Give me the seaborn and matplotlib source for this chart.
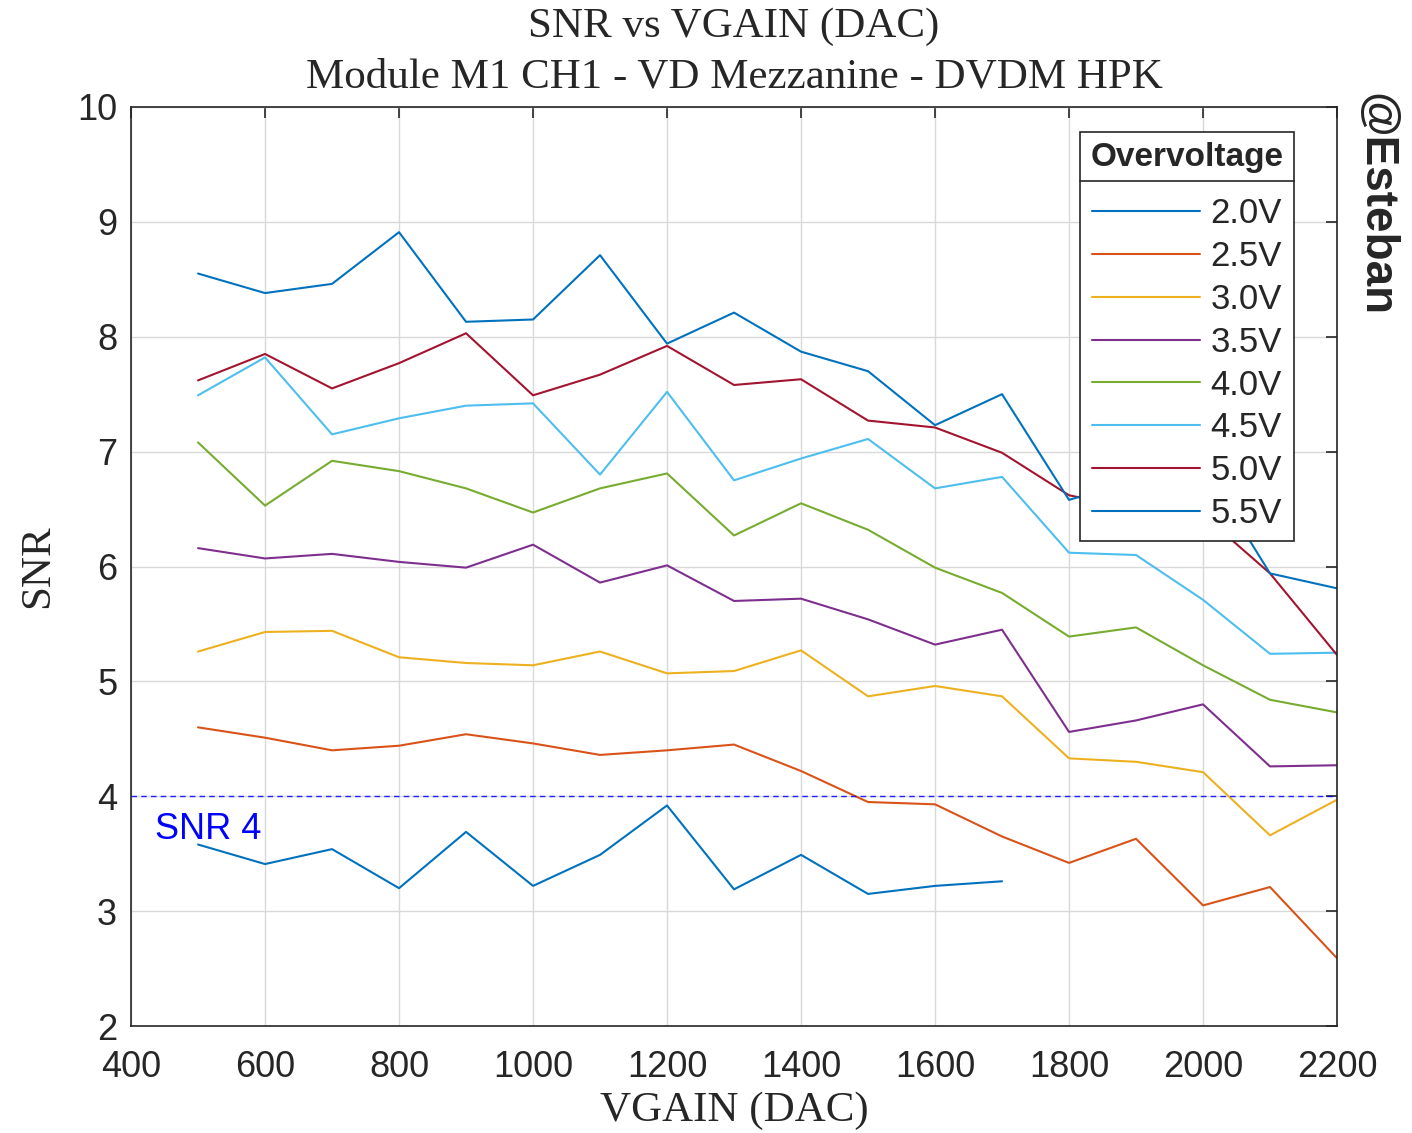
import numpy as np
import pandas as pd
import matplotlib
matplotlib.use("Agg")
import matplotlib.pyplot as plt
import seaborn as sns
from matplotlib.lines import Line2D

vgain = [500, 600, 700, 800, 900, 1000, 1100, 1200, 1300, 1400, 1500, 1600, 1700, 1800, 1900, 2000, 2100, 2200]

snr_2_0 = [3.58, 3.41, 3.54, 3.20, 3.69, 3.22, 3.49, 3.92, 3.19, 3.49, 3.15, 3.22, 3.26]
snr_2_5 = [4.60, 4.51, 4.40, 4.44, 4.54, 4.46, 4.36, 4.40, 4.45, 4.22, 3.95, 3.93, 3.65, 3.42, 3.63, 3.05, 3.21, 2.59]
snr_3_0 = [5.26, 5.43, 5.44, 5.21, 5.16, 5.14, 5.26, 5.07, 5.09, 5.27, 4.87, 4.96, 4.87, 4.33, 4.30, 4.21, 3.66, 3.97]
snr_3_5 = [6.16, 6.07, 6.11, 6.04, 5.99, 6.19, 5.86, 6.01, 5.70, 5.72, 5.54, 5.32, 5.45, 4.56, 4.66, 4.80, 4.26, 4.27]
snr_4_0 = [7.08, 6.53, 6.92, 6.83, 6.68, 6.47, 6.68, 6.81, 6.27, 6.55, 6.32, 5.99, 5.77, 5.39, 5.47, 5.14, 4.84, 4.73]
snr_4_5 = [7.49, 7.82, 7.15, 7.29, 7.40, 7.42, 6.80, 7.52, 6.75, 6.94, 7.11, 6.68, 6.78, 6.12, 6.10, 5.71, 5.24, 5.25]
snr_5_0 = [7.62, 7.85, 7.55, 7.77, 8.03, 7.49, 7.67, 7.92, 7.58, 7.63, 7.27, 7.21, 6.99, 6.62, 6.50, 6.45, 5.94, 5.23]
snr_5_5 = [8.55, 8.38, 8.46, 8.91, 8.13, 8.15, 8.71, 7.94, 8.21, 7.87, 7.70, 7.23, 7.50, 6.58, 6.75, 6.88, 5.94, 5.81]

labels = ["2.0V", "2.5V", "3.0V", "3.5V", "4.0V", "4.5V", "5.0V", "5.5V"]
series = [snr_2_0, snr_2_5, snr_3_0, snr_3_5, snr_4_0, snr_4_5, snr_5_0, snr_5_5]
colors = ["#0072BD", "#D95319", "#EDB120", "#7E2F8E", "#77AC30", "#4DBEEE", "#A2142F", "#0072BD"]

rows = []
for lab, vals in zip(labels, series):
    for x, y in zip(vgain, vals):
        rows.append({"VGAIN": x, "SNR": y, "Overvoltage": lab})
df = pd.DataFrame(rows)

sns.set_style("white")
plt.rcParams['font.family'] = ['Liberation Sans', 'DejaVu Sans']

fig = plt.figure(figsize=(14.12, 11.33), dpi=100)
ax = fig.add_axes([0.0928, 0.0944, 0.9469 - 0.0928, 0.9056 - 0.0944])

sns.lineplot(data=df, x="VGAIN", y="SNR", hue="Overvoltage", hue_order=labels,
             palette=dict(zip(labels, colors)), linewidth=1.5, ax=ax, legend=False,
             estimator=None, sort=False)

ax.axhline(4, color=(0, 0, 1), linestyle=(0, (4, 3)), linewidth=1.0, alpha=0.85)
ax.text(436, 3.71, "SNR 4", color=(0, 0, 1), fontsize=26, va="center", ha="left")

ax.set_xlim(400, 2200)
ax.set_ylim(2, 10)
ax.set_xticks(np.arange(400, 2201, 200))
ax.set_yticks(np.arange(2, 11, 1))
ax.grid(True, color="#d9d9d9", linewidth=1.0)
ax.tick_params(axis="both", which="both", direction="in", length=8, width=1.2,
               color="#262626", top=True, right=True, labelsize=26, labelcolor="#262626")
ax.tick_params(axis="x", pad=17)
ax.tick_params(axis="y", pad=10)
for sp in ax.spines.values():
    sp.set_visible(True)
    sp.set_color("#262626")
    sp.set_linewidth(1.2)

serif = ['Liberation Serif', 'DejaVu Serif']
ax.set_xlabel("VGAIN (DAC)", family=serif, fontsize=31, labelpad=5)
ax.set_ylabel("SNR", family=serif, fontsize=31, labelpad=14)
ax.set_title("SNR vs VGAIN (DAC)\nModule M1 CH1 - VD Mezzanine - DVDM HPK",
             family=serif, fontsize=31, pad=14, linespacing=1.4)

handles = [Line2D([0], [0], color=c, linewidth=1.5) for c in colors]
leg = ax.legend(handles, labels, title="Overvoltage", loc="upper right",
                bbox_to_anchor=(0.9643, 0.9728), borderaxespad=0, fontsize=25,
                frameon=True, fancybox=False, edgecolor="#262626", framealpha=1,
                handlelength=3.1, labelspacing=0.285, borderpad=0.3, handletextpad=0.3,
                title_fontproperties={'weight': 'bold', 'size': 24})
leg.get_frame().set_linewidth(1.2)
leg._legend_box.sep = 17

fig.text(0.974, 0.918, "@Esteban", rotation=-90, fontsize=33, fontweight="bold",
         ha="center", va="top")

fig.canvas.draw()
tb = leg.get_title().get_window_extent()
fb = leg.get_frame().get_window_extent()
inv = fig.transFigure.inverted()
ysep = tb.y0 - 8
(x0, y0) = inv.transform((fb.x0, ysep))
(x1, _) = inv.transform((fb.x1, ysep))
fig.add_artist(Line2D([x0, x1], [y0, y0], color="#262626", linewidth=1.2,
                      transform=fig.transFigure))

fig.savefig("out.png", dpi=100)
